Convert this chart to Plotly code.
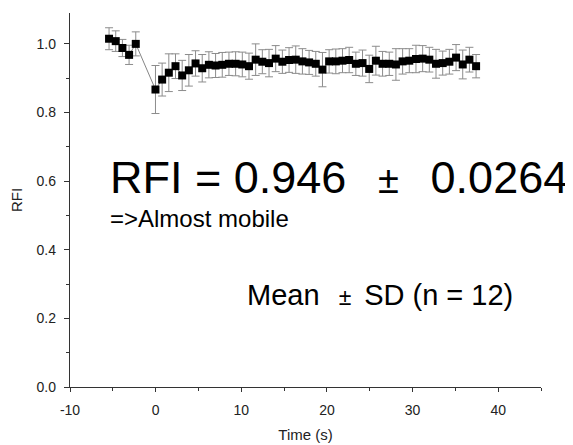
import plotly.graph_objects as go

# --- data ---
time_s = [-5.44, -4.66, -3.88, -3.10, -2.32,
          -0.02, 0.76, 1.54, 2.32, 3.10, 3.88, 4.66, 5.44, 6.22, 7.00,
          7.78, 8.56, 9.34, 10.12, 10.90, 11.68, 12.46, 13.24, 14.02, 14.80,
          15.58, 16.36, 17.14, 17.92, 18.70, 19.48, 20.26, 21.04, 21.82, 22.60,
          23.38, 24.16, 24.94, 25.72, 26.50, 27.28, 28.06, 28.84, 29.62, 30.40,
          31.18, 31.96, 32.74, 33.52, 34.30, 35.08, 35.86, 36.64, 37.42]
rfi = [1.015, 1.008, 0.988, 0.968, 1.000,
       0.867, 0.896, 0.916, 0.935, 0.908, 0.923, 0.943, 0.929, 0.939, 0.937,
       0.939, 0.942, 0.942, 0.940, 0.935, 0.954, 0.948, 0.944, 0.957, 0.948,
       0.953, 0.954, 0.949, 0.946, 0.942, 0.925, 0.949, 0.949, 0.951, 0.953,
       0.942, 0.944, 0.927, 0.951, 0.942, 0.942, 0.940, 0.949, 0.951, 0.956,
       0.957, 0.954, 0.942, 0.944, 0.948, 0.960, 0.940, 0.954, 0.935]
rfi_sd = [0.032, 0.030, 0.025, 0.028, 0.035,
          0.070, 0.048, 0.055, 0.036, 0.044, 0.046, 0.037, 0.040, 0.038, 0.035,
          0.036, 0.034, 0.035, 0.036, 0.038, 0.046, 0.035, 0.040, 0.038, 0.034,
          0.036, 0.040, 0.037, 0.035, 0.036, 0.050, 0.034, 0.036, 0.035, 0.037,
          0.034, 0.038, 0.040, 0.042, 0.036, 0.034, 0.046, 0.037, 0.035, 0.040,
          0.038, 0.036, 0.042, 0.035, 0.036, 0.038, 0.042, 0.036, 0.034]

x_ticks = [-10, 0, 10, 20, 30, 40]
x_tick_labels = ["-10", "0", "10", "20", "30", "40"]
y_ticks = [0.0, 0.2, 0.4, 0.6, 0.8, 1.0]
y_tick_labels = ["0.0", "0.2", "0.4", "0.6", "0.8", "1.0"]

FONT = "Arial, 'Liberation Sans', sans-serif"
AX = "#333333"

fig = go.Figure()
fig.add_trace(go.Scatter(
    x=time_s, y=rfi, mode="lines+markers",
    line=dict(color="#666666", width=0.8),
    marker=dict(symbol="square", size=8, color="black"),
    error_y=dict(type="data", array=rfi_sd, visible=True,
                 color="#8c8c8c", thickness=1, width=4),
    showlegend=False,
))

axis_common = dict(
    showline=True, linecolor=AX, linewidth=1.3, mirror=False,
    ticks="outside", tickwidth=1.2, tickcolor=AX,
    showgrid=False, zeroline=False,
    tickfont=dict(family=FONT, size=14, color="#222222"),
)

fig.update_xaxes(range=[-10, 45], tickvals=x_ticks, ticktext=x_tick_labels,
                 ticklen=4, ticklabelstandoff=6,
                 minor=dict(dtick=5, ticks="outside", ticklen=3, tickwidth=1, tickcolor=AX),
                 title=dict(text="Time (s)", font=dict(family=FONT, size=15, color="#222222"), standoff=12),
                 **axis_common)
fig.update_yaxes(range=[0, 1.09], tickvals=y_ticks, ticktext=y_tick_labels,
                 ticklen=5, ticklabelstandoff=5,
                 minor=dict(dtick=0.1, ticks="outside", ticklen=3, tickwidth=1, tickcolor=AX),
                 title=dict(text="RFI", font=dict(family=FONT, size=15, color="#222222"), standoff=12),
                 **axis_common)

nb = "\u00a0"
pm_big = '<span style="font-size:38px">' + nb * 3 + "\u00b1" + nb * 3 + "</span>"
pm_small = '<span style="font-size:23px">' + nb * 3 + "\u00b1" + nb * 2 + "</span>"
fig.add_annotation(x=-5.56, y=0.612, xref="x", yref="y", xanchor="left", yanchor="middle",
                   text="RFI = 0.946" + pm_big + "0.0264", showarrow=False,
                   font=dict(family=FONT, size=45, color="black"))
fig.add_annotation(x=-5.56, y=0.49, xref="x", yref="y", xanchor="left", yanchor="middle",
                   text="=>Almost mobile", showarrow=False,
                   font=dict(family=FONT, size=24, color="black"))
fig.add_annotation(x=10.47, y=0.267, xref="x", yref="y", xanchor="left", yanchor="middle",
                   text="Mean" + pm_small + "SD (n = 12)", showarrow=False,
                   font=dict(family=FONT, size=29, color="black"))

# The page body adds an 8 px offset, so the figure is sized to fit the window
fig.update_layout(
    width=565, height=437,
    margin=dict(l=62, r=32, t=5, b=56),
    paper_bgcolor="white", plot_bgcolor="white",
)

fig.write_html("out.html")
